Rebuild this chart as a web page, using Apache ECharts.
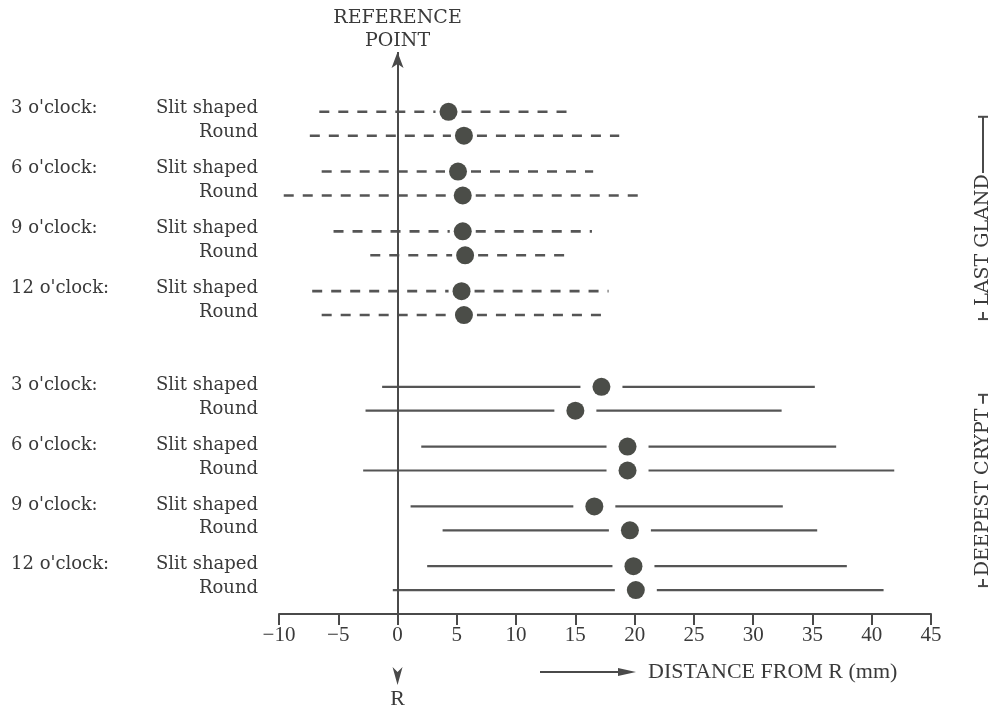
<!DOCTYPE html>
<html><head><meta charset="utf-8">
<script src="https://cdn.jsdelivr.net/npm/echarts@6/dist/echarts.min.js"></script>
<style>html,body{margin:0;padding:0;background:#fff}#c{width:995px;height:707px}</style>
</head><body><div id="c"></div>
<script>
// ---- data ----
const groupNames = ['LAST GLAND', 'DEEPEST CRYPT'];
const siteNames = ["3 o'clock:", "6 o'clock:", "9 o'clock:", "12 o'clock:"];
const shapeNames = ['Slit shaped', 'Round'];
// rows in order: group -> site -> shape
const rangeStart = [-6.6, -7.4, -6.4, -9.6, -5.4, -2.3, -7.2, -6.4,
                    -1.3, -2.7, 2.0, -2.9, 1.1, 3.8, 2.5, -0.4];
const dotValue   = [4.3, 5.6, 5.1, 5.5, 5.5, 5.7, 5.4, 5.6,
                    17.2, 15.0, 19.4, 19.4, 16.6, 19.6, 19.9, 20.1];
const rangeEnd   = [15.0, 18.7, 16.5, 20.4, 16.4, 14.2, 17.8, 17.7,
                    35.2, 32.4, 37.0, 41.9, 32.5, 35.4, 37.9, 41.0];
const xMin = -10, xMax = 45, xStep = 5;
const axisTitle = 'DISTANCE FROM R (mm)';
const refTitle = ['REFERENCE', 'POINT'];
const refMark = 'R';

// ---- layout (row slots on a hidden axis) ----
const rows = [];
groupNames.forEach((g, gi) => siteNames.forEach((s, si) => shapeNames.forEach((sh, ki) => {
  const i = rows.length;
  rows.push({ gi, si, ki, slot: gi * 23 + si * 5 + ki * 2,
              start: rangeStart[i], dot: dotValue[i], end: rangeEnd[i] });
})));

const INK = '#4a4a4a', TEXT = '#3a3a3a', DOT = '#4b4d48';
const serif = 'DejaVu Serif';
const timesLike = 'Liberation Serif';

const chart = echarts.init(document.getElementById('c'), null, { renderer: 'canvas' });

const option = {
  animation: false,
  backgroundColor: '#fff',
  grid: { left: 279, right: 64, top: 52, bottom: 93 },
  xAxis: {
    type: 'value', min: xMin, max: xMax, interval: xStep,
    axisLine: { show: true, onZero: false, lineStyle: { color: INK, width: 2 } },
    axisTick: { show: true, length: 11, lineStyle: { color: INK, width: 2 } },
    axisLabel: { color: TEXT, fontFamily: timesLike, fontSize: 21, margin: 11,
                 formatter: v => (v < 0 ? '\u2212' + Math.abs(v) : String(v)) },
    splitLine: { show: false }
  },
  yAxis: { type: 'value', inverse: true, min: -5, max: 42, show: false,
           axisLine: { onZero: false } },
  series: [
    {
      type: 'custom', clip: false,
      data: rows.map(r => [r.start, r.dot, r.end, r.slot, r.gi]),
      encode: { x: [0, 1, 2], y: 3 },
      renderItem(params, api) {
        const y = api.value(3), g = api.value(4);
        const a = api.coord([api.value(0), y]);
        const d = api.coord([api.value(1), y]);
        const b = api.coord([api.value(2), y]);
        const gap = g === 0 ? 13 : 21;
        const st = { stroke: '#555', lineWidth: g === 0 ? 2.6 : 2.2,
                     lineDash: g === 0 ? [10, 9] : null, fill: null };
        return { type: 'group', children: [
          { type: 'line', shape: { x1: a[0], y1: a[1], x2: d[0] - gap, y2: d[1] }, style: st },
          { type: 'line', shape: { x1: d[0] + gap, y1: d[1], x2: b[0], y2: b[1] }, style: st },
          { type: 'circle', shape: { cx: d[0], cy: d[1], r: 9 }, style: { fill: DOT } }
        ]};
      },
      markLine: {
        silent: true, symbol: ['arrow', 'none'], symbolSize: [9, 16],
        label: { show: false },
        lineStyle: { color: INK, width: 2, type: 'solid' },
        data: [[{ coord: [0, -5] }, { coord: [0, 42] }]]
      },
      z: 3
    },
    {
      type: 'custom', clip: false, silent: true,
      data: rows.map(r => [xMin, r.slot, r.si, r.ki, r.gi]),
      encode: { x: 0, y: 1 },
      renderItem(params, api) {
        const p = api.coord([api.value(0), api.value(1)]);
        const si = api.value(2), ki = api.value(3), gi = api.value(4);
        const dy = gi === 0 ? -3 : -1.5;
        const kids = [{ type: 'text', x: p[0] - 21, y: p[1] + dy,
          style: { text: shapeNames[ki], fill: TEXT, font: '18px "' + serif + '"',
                   align: 'right', verticalAlign: 'middle' } }];
        if (ki === 0) kids.push({ type: 'text', x: p[0] - 268, y: p[1] + dy,
          style: { text: siteNames[si], fill: TEXT, font: '18px "' + serif + '"',
                   align: 'left', verticalAlign: 'middle' } });
        return { type: 'group', children: kids };
      }
    }
  ]
};
chart.setOption(option);

// decorations placed relative to the axes
const x0 = chart.convertToPixel({ xAxisIndex: 0 }, 0);
const yAxisLine = chart.convertToPixel({ yAxisIndex: 0 }, 42);
const gTop = chart.convertToPixel({ yAxisIndex: 0 }, 0);
const g1a = chart.convertToPixel({ yAxisIndex: 0 }, 17);
const g2a = chart.convertToPixel({ yAxisIndex: 0 }, 23);
const gBot = chart.convertToPixel({ yAxisIndex: 0 }, 40);
const rx = 983;
const LW = { stroke: INK, lineWidth: 2 };

const brTopA = gTop + 5, brBotA = g1a + 4, cyA = g1a - 75, halfA = 67;
const brTopB = g2a + 8, brBotB = gBot - 4, cyB = (g2a + gBot) / 2 + 4, halfB = 85;

function vtext(label, cy) {
  return { type: 'text', x: rx, y: cy, rotation: Math.PI / 2,
    style: { text: label, fill: TEXT, font: '19px "' + serif + '"', align: 'center', verticalAlign: 'middle' } };
}
function seg(x1, y1, x2, y2) { return { type: 'line', shape: { x1, y1, x2, y2 }, style: LW }; }

chart.setOption({
  graphic: [
    { type: 'text', x: x0, y: 18, style: { text: refTitle[0], fill: TEXT, font: '19px "' + serif + '"', align: 'center', verticalAlign: 'middle' } },
    { type: 'text', x: x0, y: 41, style: { text: refTitle[1], fill: TEXT, font: '19px "' + serif + '"', align: 'center', verticalAlign: 'middle' } },
    { type: 'polygon', shape: { points: [[x0 - 5, yAxisLine + 53], [x0, yAxisLine + 58], [x0 + 5, yAxisLine + 53], [x0, yAxisLine + 71]] }, style: { fill: INK } },
    { type: 'text', x: x0, y: yAxisLine + 85, style: { text: refMark, fill: TEXT, font: '22px "' + timesLike + '"', align: 'center', verticalAlign: 'middle' } },
    seg(540, yAxisLine + 58, 624, yAxisLine + 58),
    { type: 'polygon', shape: { points: [[618, yAxisLine + 54], [636, yAxisLine + 58], [618, yAxisLine + 62]] }, style: { fill: INK } },
    { type: 'text', x: 648, y: yAxisLine + 58, style: { text: axisTitle, fill: TEXT, font: '22px "' + timesLike + '"', align: 'left', verticalAlign: 'middle' } },
    // LAST GLAND bracket
    vtext(groupNames[0], cyA),
    seg(rx, brTopA, rx, cyA - halfA),
    seg(rx - 5, brTopA, rx + 5, brTopA),
    seg(rx, brBotA, rx, brBotA - 7),
    seg(rx - 5, brBotA, rx + 5, brBotA),
    // DEEPEST CRYPT bracket
    vtext(groupNames[1], cyB),
    seg(rx, brTopB, rx, brTopB + 9),
    seg(rx - 5, brTopB, rx + 5, brTopB),
    seg(rx, brBotB, rx, brBotB - 7),
    seg(rx - 5, brBotB, rx + 5, brBotB)
  ]
});
</script></body></html>
